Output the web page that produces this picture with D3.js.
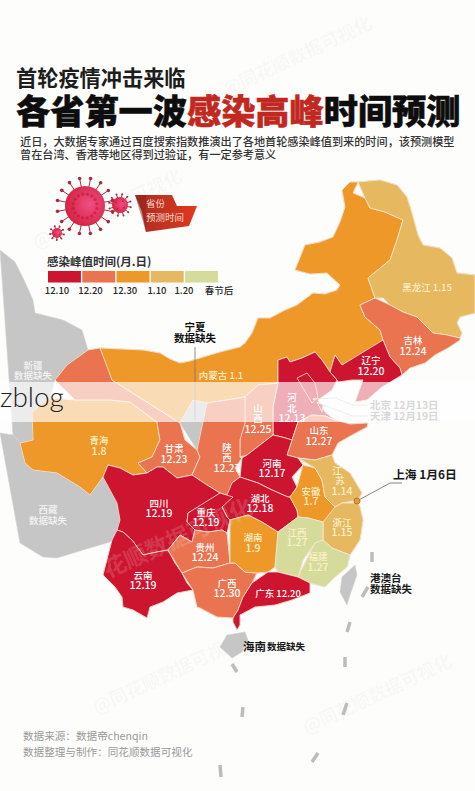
<!DOCTYPE html>
<html>
<head>
<meta charset="utf-8">
<script src="https://d3js.org/d3.v7.min.js"></script>
<style>
  html, body { margin: 0; padding: 0; background: #fdfdfc; overflow: hidden; }
  svg { display: block; }
  text { font-family: "Noto Sans CJK SC", "Noto Sans", sans-serif; }
</style>
</head>
<body>
<svg id="chart" width="475" height="791"></svg>
<script>
// peak date per province as month.day, null = no data
var provinceNames = ["新疆","西藏","青海","甘肃","宁夏","内蒙古","黑龙江","吉林","辽宁","河北","山西","陕西","山东","河南","湖北","四川","重庆","云南","贵州","广西","湖南","安徽","江苏","浙江","江西","福建","广东","海南","台湾","北京","天津"];
var provincePeaks = [null,null,"1.8","12.23",null,"1.1","1.15","12.24","12.20","12.13","12.25","12.27","12.27","12.17","12.18","12.19","12.19","12.19","12.24","12.30","1.9","1.7","1.14","1.15","1.27","1.27","12.20",null,null,"12.13","12.19"];

// legend
var legendLabels = ["12.10","12.20","12.30","1.10","1.20","春节后"];
var legendBuckets = ["#cd1530","#ea7350","#ee982a","#e6b860","#d5dc9b"];
var bucketLimits = [21, 31, 42, 52]; // days counted from 12.0

// province outlines, in map units
var provinceOutlines = [
  [[0,250],[15,262],[25,282],[33,300],[35,313],[63,320],[82,330],[88,350],[67,365],[55,380],[50,398],[32,412],[37,422],[33,440],[20,443],[13,435],[0,433]],
  [[0,433],[13,435],[20,443],[25,463],[33,470],[57,473],[80,487],[90,495],[103,477],[113,487],[117,503],[120,520],[117,530],[112,540],[110,542],[83,550],[57,558],[43,557],[20,543],[0,545]],
  [[32,412],[50,398],[75,400],[110,400],[130,402],[157,422],[160,440],[152,457],[138,463],[147,473],[133,475],[120,468],[108,465],[103,477],[90,495],[80,487],[57,473],[33,470],[25,463],[20,443],[33,440],[37,422]],
  [[55,380],[67,365],[88,350],[100,348],[107,363],[112,380],[180,423],[185,440],[197,450],[200,457],[192,475],[177,478],[163,467],[157,467],[147,473],[138,463],[152,457],[160,440],[157,422],[130,402],[110,400],[75,400],[50,398]],
  [[180,423],[193,400],[207,403],[208,423],[197,450],[185,440]],
  [[100,348],[120,349],[143,350],[160,353],[170,359],[180,363],[190,361],[200,358],[220,352],[240,347],[245,343],[252,333],[258,318],[270,318],[283,311],[297,305],[313,293],[325,294],[337,290],[340,285],[327,273],[310,274],[295,270],[305,245],[320,242],[333,237],[340,222],[345,207],[342,190],[350,182],[358,182],[353,193],[365,198],[370,208],[385,212],[403,220],[397,240],[390,260],[368,278],[375,298],[360,305],[365,317],[380,330],[383,340],[365,353],[342,365],[335,355],[330,372],[322,360],[315,352],[302,358],[290,362],[287,357],[278,360],[278,372],[278,383],[258,385],[245,397],[227,400],[207,403],[193,400],[180,423],[112,380],[107,363]],
  [[358,182],[380,180],[397,185],[407,197],[412,213],[418,235],[423,245],[440,248],[452,258],[457,273],[475,275],[475,313],[460,317],[457,323],[462,333],[460,338],[447,335],[433,333],[427,327],[417,317],[403,312],[390,305],[383,298],[375,298],[368,278],[390,260],[397,240],[403,220],[385,212],[370,208],[365,198],[353,193]],
  [[375,298],[360,305],[365,317],[380,330],[383,340],[390,357],[400,368],[402,375],[410,368],[425,363],[435,355],[448,348],[460,340],[460,338],[447,335],[433,333],[427,327],[417,317],[403,312],[390,305],[383,298]],
  [[383,340],[390,357],[400,368],[402,375],[382,387],[367,400],[355,402],[363,380],[352,380],[338,382],[337,380],[330,372],[335,355],[342,365],[365,353]],
  [[278,360],[287,357],[290,362],[302,358],[315,352],[322,360],[330,372],[337,380],[332,390],[318,400],[325,412],[335,420],[325,416],[312,415],[298,422],[292,440],[282,437],[273,435],[273,407],[278,383],[278,372]],
  [[245,397],[258,385],[278,383],[273,407],[273,435],[247,455],[240,457],[240,440],[245,423]],
  [[207,403],[227,400],[245,397],[245,423],[240,440],[240,457],[242,458],[235,468],[240,477],[232,483],[233,497],[220,493],[207,485],[192,475],[200,457],[197,450],[208,423]],
  [[298,422],[312,415],[325,416],[335,420],[350,424],[368,423],[367,427],[352,435],[338,443],[332,455],[315,460],[298,458],[287,455],[292,440]],
  [[242,458],[247,455],[273,435],[282,437],[292,440],[287,455],[298,458],[303,465],[292,477],[297,487],[290,497],[288,497],[272,490],[258,483],[240,477],[235,468]],
  [[232,483],[240,477],[258,483],[272,490],[288,497],[290,497],[297,510],[298,517],[278,532],[262,522],[248,515],[230,520],[227,517],[222,507],[233,497]],
  [[103,477],[108,465],[120,468],[133,475],[147,473],[157,467],[163,467],[177,478],[192,475],[207,485],[220,493],[207,503],[188,513],[187,522],[195,530],[192,542],[180,535],[168,550],[157,552],[143,555],[132,540],[123,532],[117,530],[120,520],[117,503],[113,487]],
  [[220,493],[233,497],[222,507],[227,517],[230,520],[227,533],[222,530],[208,532],[195,530],[187,522],[188,513],[207,503]],
  [[112,540],[117,530],[123,532],[132,540],[143,555],[157,552],[168,550],[175,563],[182,573],[187,583],[193,590],[177,593],[163,602],[150,607],[147,618],[133,610],[123,607],[122,597],[115,587],[103,575],[120,553]],
  [[168,550],[180,535],[192,542],[195,530],[208,532],[222,530],[227,533],[230,563],[213,568],[197,567],[182,573],[175,563]],
  [[182,573],[197,567],[213,568],[230,563],[235,563],[245,572],[257,573],[252,583],[243,597],[238,610],[233,618],[217,617],[200,608],[197,607],[193,590],[187,583]],
  [[230,520],[248,515],[262,522],[278,532],[277,547],[275,567],[268,572],[257,573],[245,572],[235,563],[230,563],[227,533]],
  [[303,465],[315,468],[322,480],[325,497],[335,507],[328,517],[323,522],[308,518],[298,517],[297,510],[290,497],[297,487],[292,477]],
  [[298,458],[315,460],[332,455],[335,463],[350,473],[362,493],[358,500],[342,503],[335,507],[325,497],[322,480],[315,468],[303,465]],
  [[335,507],[342,503],[358,503],[360,507],[363,520],[360,540],[350,555],[332,548],[323,540],[323,530],[323,522],[328,517]],
  [[278,532],[298,517],[308,518],[323,522],[323,530],[323,540],[315,543],[303,560],[298,577],[278,572],[275,567],[277,547]],
  [[315,543],[323,540],[332,548],[350,555],[347,567],[335,577],[325,587],[310,583],[298,577],[303,560]],
  [[268,572],[278,572],[298,577],[310,583],[310,593],[292,600],[275,605],[255,607],[240,615],[240,625],[237,630],[233,622],[233,618],[238,610],[243,597],[252,583],[257,573]],
  [[220,647],[227,635],[245,632],[248,640],[242,652],[232,658],[222,655]],
  [[355,565],[357,575],[350,595],[347,605],[340,592],[342,577],[348,567]],
  [[297,378],[307,373],[315,383],[318,397],[312,403],[300,397]],
  [[317,402],[323,405],[322,412],[316,412]]
];

// province labels: name lines, where they sit (map units)
var labelLines = {
  "新疆":[["新疆",33,365],["数据缺失",33,375]],
  "西藏":[["西藏",48,509],["数据缺失",48,520]],
  "青海":[["青海",99,440],["1.8",99,451]],
  "甘肃":[["甘肃",174,448],["12.23",174,459]],
  "内蒙古":[["内蒙古 1.1",221,375]],
  "黑龙江":[["黑龙江 1.15",427,287]],
  "吉林":[["吉林",413,340],["12.24",413,351]],
  "辽宁":[["辽宁",371,360],["12.20",371,371]],
  "河北":[["河",292,397],["北",292,408],["12.13",292,418]],
  "山西":[["山",258,408],["西",258,418],["12.25",258,429]],
  "陕西":[["陕",227,447],["西",227,457],["12.27",227,468]],
  "山东":[["山东",319,430],["12.27",319,441]],
  "河南":[["河南",272,463],["12.17",272,473]],
  "湖北":[["湖北",260,498],["12.18",260,508]],
  "四川":[["四川",159,503],["12.19",159,513]],
  "重庆":[["重庆",206,512],["12.19",206,522]],
  "云南":[["云南",143,575],["12.19",143,585]],
  "贵州":[["贵州",205,547],["12.24",205,557]],
  "广西":[["广西",227,583],["12.30",227,593]],
  "湖南":[["湖南",253,537],["1.9",253,548]],
  "安徽":[["安徽",311,491],["1.7",311,501]],
  "江苏":[["江",337,470],["苏",340,480],["1.14",342,491]],
  "浙江":[["浙江",342,522],["1.15",342,532]],
  "江西":[["江西",297,532],["1.27",297,542]],
  "福建":[["福建",318,556],["1.27",318,567]],
  "广东":[["广东 12.20",278,593]]
};

var nineDash = [
  [[372,552],[372,562]],[[362,597],[368,587]],[[350,622],[347,632]],[[345,657],[345,667]],
  [[347,703],[343,715]],[[318,753],[312,762]],[[220,765],[221,777]],[[243,707],[242,717]],[[232,664],[237,672]]
];

var subtitleLines = ["近日，大数据专家通过百度搜索指数推演出了各地首轮感染峰值到来的时间，该预测模型","曾在台湾、香港等地区得到过验证，有一定参考意义"];
var sourceLines = ["数据来源：数据帝chenqin","数据整理与制作：同花顺数据可视化"];

var svg = d3.select("#chart");
var defs = svg.append("defs");

function dayOf(peak) {
  var p = peak.split(".");
  return p[0] === "12" ? +p[1] : 31 + (+p[1]);
}
var colorScale = d3.scaleThreshold().domain(bucketLimits).range(legendBuckets);

// faint watermark behind everything
var marks = [[110,215],[300,62],[90,470],[380,700],[170,680]];
svg.append("g").selectAll("text").data(marks).enter().append("text")
  .attr("transform", function(d){ return "translate(" + d + ") rotate(-25)"; })
  .attr("text-anchor", "middle").attr("font-size", 18).attr("font-weight", 700)
  .attr("fill", "#000").attr("opacity", 0.018).text("@同花顺数据可视化");

// heading
svg.append("text").attr("x", 16).attr("y", 86).attr("font-size", 21.2).attr("font-weight", 700).attr("fill", "#1d1d1d").text("首轮疫情冲击来临");
var head = svg.append("text").attr("x", 16).attr("y", 124).attr("font-size", 34.2).attr("font-weight", 900)
  .attr("stroke-width", 0.5).attr("fill", "#0d0d0d").attr("stroke", "#0d0d0d");
head.append("tspan").text("各省第一波");
head.append("tspan").attr("fill", "#c1281f").attr("stroke", "#c1281f").text("感染高峰");
head.append("tspan").text("时间预测");
svg.append("text").attr("font-size", 11.15).attr("font-weight", 500).attr("fill", "#333")
  .selectAll("tspan").data(subtitleLines).enter().append("tspan")
  .attr("x", 20).attr("y", function(d, i){ return 146 + i * 12.5; }).text(function(d){ return d; });

// virus icon
var grad = defs.append("radialGradient").attr("id", "virusFill").attr("cx", "62%").attr("cy", "45%").attr("r", "65%");
grad.append("stop").attr("offset", "0%").attr("stop-color", "#ef4f85");
grad.append("stop").attr("offset", "100%").attr("stop-color", "#d4203c");
var viruses = [[85,206,20,28,16],[120,205,8,11,12],[57,233,5,7,9]];
viruses.forEach(function(v) {
  var g = svg.append("g").attr("transform", "translate(" + v[0] + "," + v[1] + ")");
  var angles = d3.range(v[4]).map(function(i){ return i * 2 * Math.PI / v[4] + 0.2; });
  g.selectAll("line").data(angles).enter().append("line")
    .attr("x2", function(a){ return Math.cos(a) * v[3]; })
    .attr("y2", function(a){ return Math.sin(a) * v[3]; })
    .attr("stroke", "#a83240").attr("stroke-width", 1);
  g.selectAll("circle.knob").data(angles).enter().append("circle").attr("class", "knob")
    .attr("cx", function(a){ return Math.cos(a) * v[3]; })
    .attr("cy", function(a){ return Math.sin(a) * v[3]; })
    .attr("r", v[2] > 10 ? 1.8 : 1).attr("fill", "#9c3040");
  g.append("circle").attr("r", v[2]).attr("fill", "url(#virusFill)");
  g.selectAll("circle.spot").data(angles).enter().append("circle").attr("class", "spot")
    .attr("cx", function(a){ return Math.cos(a * 3) * v[2] * 0.6; })
    .attr("cy", function(a){ return Math.sin(a * 3) * v[2] * 0.6; })
    .attr("r", v[2] * 0.08).attr("fill", "#b3122e").attr("opacity", 0.5);
});

// tag next to the virus
var tagGrad = defs.append("linearGradient").attr("id", "tagFill").attr("x1", "0").attr("x2", "1");
tagGrad.append("stop").attr("offset", "0%").attr("stop-color", "#a92e22");
tagGrad.append("stop").attr("offset", "100%").attr("stop-color", "#e2381f");
svg.append("path").attr("d", "M135 195 L172 195 L177 206 L197 206 L189 226 L146 232 L142 212 Z").attr("fill", "url(#tagFill)");
svg.append("path").attr("d", "M135 195 L146 195 L146 232 Z").attr("fill", "#8e1f18").attr("opacity", 0.5);
svg.append("text").attr("font-size", 9.5).attr("fill", "#f7d9c8")
  .selectAll("tspan").data(["省份","预测时间"]).enter().append("tspan")
  .attr("x", 146).attr("y", function(d, i){ return 207 + i * 14; }).text(function(d){ return d; });

// legend
svg.append("text").attr("x", 47).attr("y", 266).attr("font-size", 11.5).attr("font-weight", 700).attr("fill", "#333").text("感染峰值时间(月.日)");
var legendX = d3.scaleBand().domain(legendBuckets).range([48, 218]).paddingInner(0.04);
svg.append("g").selectAll("rect").data(legendBuckets).enter().append("rect")
  .attr("x", function(d){ return legendX(d); }).attr("y", 271)
  .attr("width", legendX.bandwidth()).attr("height", 11.5).attr("fill", function(d){ return d; });
var legendTickX = [57, 90.5, 125, 157, 184, 219];
svg.append("g").selectAll("text").data(legendLabels).enter().append("text")
  .attr("x", function(d, i){ return legendTickX[i]; }).attr("y", 294)
  .attr("text-anchor", "middle").attr("font-size", 9.5).attr("font-weight", 500).attr("fill", "#2a2a2a")
  .text(function(d){ return d; });

// map
var features = provinceNames.map(function(name, i) {
  return { type: "Feature", properties: { name: name, peak: provincePeaks[i] },
    geometry: { type: "Polygon", coordinates: [provinceOutlines[i]] } };
});
var projection = d3.geoIdentity().fitExtent([[0, 180], [475, 658]], { type: "FeatureCollection", features: features });
var geoPath = d3.geoPath(projection);

svg.append("g").selectAll("path").data(nineDash).enter().append("path")
  .attr("d", function(d){ return geoPath({ type: "LineString", coordinates: d }); })
  .attr("fill", "none").attr("stroke", "#bcbcbc").attr("stroke-width", 3.5);

// grey "no data" areas sit flat, coloured provinces get a small shadow
var greyG = svg.append("g");
greyG.selectAll("path").data(features.filter(function(d){ return !d.properties.peak; })).enter().append("path")
  .attr("d", geoPath).attr("fill", "#c6c6c6").attr("stroke", "#d4d4d4").attr("stroke-width", 0.6);
var mapG = svg.append("g").style("filter", "drop-shadow(0.6px 0.8px 0.5px rgba(120,90,50,0.35))");
mapG.selectAll("path").data(features.filter(function(d){ return d.properties.peak; })).enter().append("path")
  .attr("d", geoPath)
  .attr("fill", function(d){ return colorScale(dayOf(d.properties.peak)); })
  .attr("stroke", "#fbe9d6").attr("stroke-width", 0.8).attr("stroke-linejoin", "round");

// watermark crossing the map
svg.append("text").attr("transform", "translate(160,555) rotate(-24)").attr("text-anchor", "middle")
  .attr("font-size", 23).attr("font-weight", 700).attr("fill", "#fff").attr("opacity", 0.14).text("@同花顺数据可视化");

// province labels, one text block per province
Object.keys(labelLines).forEach(function(name) {
  var peak = provincePeaks[provinceNames.indexOf(name)];
  var fill = !peak ? "#f4f4f4" : (dayOf(peak) < 31 ? "#fff" : "#fbf0c8");
  svg.append("text").attr("text-anchor", "middle").attr("font-weight", 500).attr("fill", fill)
    .selectAll("tspan").data(labelLines[name]).enter().append("tspan")
    .attr("x", function(l){ return projection([l[1], l[2]])[0]; })
    .attr("y", function(l){ return projection([l[1], l[2]])[1] + 3.5; })
    .attr("font-size", function(l){ return /^[\d.]+$/.test(l[0]) ? 10.5 : 9.5; })
    .text(function(l){ return l[0]; });
});

// callouts
var lineGen = d3.line().x(function(d){ return projection(d)[0]; }).y(function(d){ return projection(d)[1]; });
var callouts = [
  { pts: [[195,347],[195,420]], color: "#777" },
  { pts: [[314,399],[335,398],[353,405],[368,405]], color: "#bbb" },
  { pts: [[318,403],[353,416],[368,416]], color: "#bbb" },
  { pts: [[357,501],[390,483],[402,483]], color: "#666" }
];
svg.append("g").selectAll("path").data(callouts).enter().append("path")
  .attr("d", function(d){ return lineGen(d.pts); })
  .attr("fill", "none").attr("stroke", function(d){ return d.color; }).attr("stroke-width", 0.8);
svg.append("circle").datum([357,501]).attr("cx", function(d){ return projection(d)[0]; }).attr("cy", function(d){ return projection(d)[1]; })
  .attr("r", 3).attr("fill", colorScale(dayOf("1.6"))).attr("stroke", "#8a6a20").attr("stroke-width", 0.7);
svg.append("circle").datum([314,399]).attr("cx", function(d){ return projection(d)[0]; }).attr("cy", function(d){ return projection(d)[1]; })
  .attr("r", 1).attr("fill", "#fff");

var noteBlocks = [
  { fill: "#111", anchor: "middle", size: 10.5, lines: [["宁夏",195,327],["数据缺失",195,338]] },
  { fill: "#8a8a8a", anchor: "start", size: 10.4, lines: [["北京 12月13日",370,405],["天津 12月19日",370,416]] },
  { fill: "#1a1a1a", anchor: "start", size: 11.8, lines: [["上海 1月6日",393,475]] },
  { fill: "#1a1a1a", anchor: "start", size: 10.5, lines: [["港澳台",370,578],["数据缺失",370,589]] },
  { fill: "#1a1a1a", anchor: "start", size: 11.5, lines: [["海南",243,647]] },
  { fill: "#1a1a1a", anchor: "start", size: 9.5, lines: [["数据缺失",267,647]] }
];
noteBlocks.forEach(function(b) {
  svg.append("text").attr("text-anchor", b.anchor).attr("fill", b.fill).attr("font-size", b.size).attr("font-weight", 700)
    .selectAll("tspan").data(b.lines).enter().append("tspan")
    .attr("x", function(l){ return projection([l[1], l[2]])[0]; })
    .attr("y", function(l){ return projection([l[1], l[2]])[1] + b.size * 0.36; })
    .text(function(l){ return l[0]; });
});

// source
svg.append("text").attr("font-size", 10.6).attr("fill", "#9a9a9a")
  .selectAll("tspan").data(sourceLines).enter().append("tspan")
  .attr("x", 23).attr("y", function(d, i){ return 740 + i * 16; }).text(function(d){ return d; });

// the pasted-on banner
svg.append("rect").attr("x", 0).attr("y", 382).attr("width", 475).attr("height", 40).attr("fill", "#fff").attr("opacity", 0.66);
svg.append("text").attr("x", 0).attr("y", 407).attr("font-size", 28).attr("font-weight", 300)
  .style("font-family", "Lato, 'Open Sans', sans-serif").attr("fill", "#222").text("zblog");
</script>
</body>
</html>
